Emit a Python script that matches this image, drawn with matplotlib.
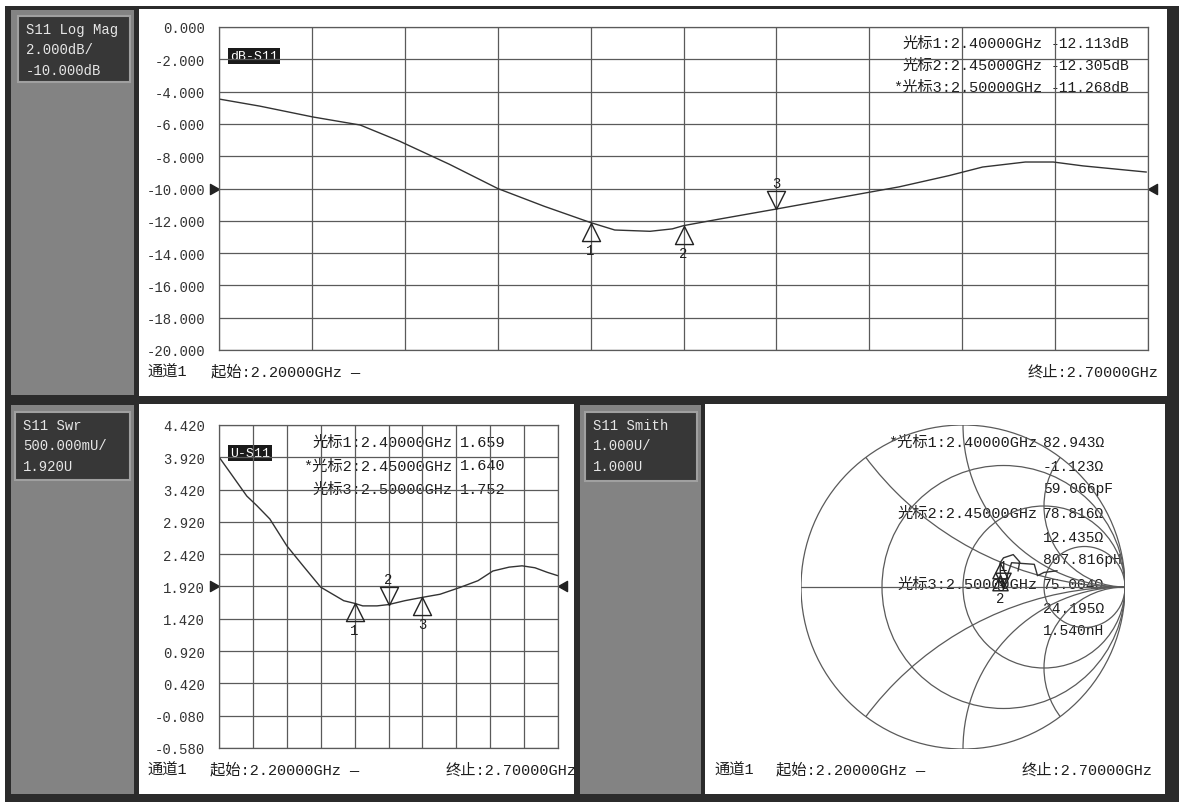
import numpy as np
import matplotlib.pyplot as plt
from matplotlib.patches import Rectangle, Circle

W, H = 1179, 803
plt.rcParams['font.family'] = ['Liberation Mono', 'Noto Sans CJK SC']

# ---- data ----
# S11 log mag (dB)
freq_db = [2.200, 2.222, 2.2505, 2.276, 2.297, 2.324, 2.350, 2.375, 2.400, 2.413,
           2.432, 2.444, 2.450, 2.469, 2.500, 2.539, 2.566, 2.593, 2.611, 2.634,
           2.649, 2.665, 2.699]
s11_db = [-4.46, -4.90, -5.57, -6.07, -7.06, -8.50, -10.00, -11.10, -12.11, -12.57,
          -12.65, -12.50, -12.30, -11.90, -11.27, -10.46, -9.90, -9.20, -8.67, -8.36,
          -8.36, -8.60, -8.98]

# S11 SWR
freq_swr = [2.200, 2.216, 2.241, 2.256, 2.275, 2.300, 2.324, 2.350, 2.384, 2.400,
            2.412, 2.433, 2.450, 2.474, 2.500, 2.526, 2.554, 2.582, 2.604, 2.628,
            2.647, 2.666, 2.684, 2.699]
swr = [3.925, 3.69, 3.32, 3.17, 2.965, 2.55, 2.24, 1.91, 1.70, 1.659,
       1.62, 1.62, 1.640, 1.70, 1.752, 1.80, 1.90, 2.01, 2.16, 2.22,
       2.24, 2.21, 2.14, 2.09]

# S11 Smith (reflection coefficient, rough)
smith_re = [0.58, 0.50, 0.46, 0.44, 0.30, 0.248, 0.231, 0.229, 0.25, 0.31, 0.35, 0.34]
smith_im = [0.10, 0.09, 0.07, 0.14, 0.15, -0.006, 0.074, 0.149, 0.18, 0.20, 0.155, 0.10]

mk_freq = [2.40, 2.45, 2.50]
mk_fstr = ['2.40000GHz', '2.45000GHz', '2.50000GHz']
mk_db = [-12.113, -12.305, -11.268]
mk_swr = [1.659, 1.640, 1.752]
mk_r = [82.943, 78.816, 75.004]
mk_x = [-1.123, 12.435, 24.195]
mk_lc = ['59.066pF', '807.816pH', '1.540nH']

TXT = '#1e1e1e'
GRID = '#5a5a5a'

fig = plt.figure(figsize=(W / 100, H / 100), dpi=100, facecolor='white')
bg = fig.add_axes([0, 0, 1, 1])
bg.set_xlim(0, W)
bg.set_ylim(H, 0)
bg.axis('off')


def box(x0, y0, x1, y1, fc, ec='none', lw=0):
    bg.add_patch(Rectangle((x0, y0), x1 - x0, y1 - y0, facecolor=fc, edgecolor=ec, lw=lw))


def px_axes(x0, y0, x1, y1):
    a = fig.add_axes([x0 / W, 1 - y1 / H, (x1 - x0) / W, (y1 - y0) / H])
    a.set_facecolor('none')
    return a


def t(x, y, s, **kw):
    kw.setdefault('fontsize', 11)
    kw.setdefault('color', TXT)
    kw.setdefault('va', 'center')
    bg.text(x, y, s, **kw)


def mk_label(i, active):
    return ('*' if active else '') + '光标%d:%s' % (i + 1, mk_fstr[i])


# frame and panels
box(5, 7, W, H, '#2b2b2b')
box(11, 11, 134, 396, '#838383')
box(139, 10, 1167, 397, 'white')
box(11, 406, 134, 795, '#838383')
box(139, 405, 574, 795, 'white')
box(580, 406, 701, 795, '#838383')
box(705, 405, 1165, 795, 'white')

# channel label boxes
for (x0, y0, x1, y1), lines in [((18, 17, 130, 83), ['S11 Log Mag', '2.000dB/', '-10.000dB']),
                                ((15, 413, 130, 481), ['S11 Swr', '500.000mU/', '1.920U']),
                                ((585, 413, 697, 482), ['S11 Smith', '1.000U/', '1.000U'])]:
    box(x0, y0, x1, y1, '#373737', '#a0a0a0', 1.5)
    for i, s in enumerate(lines):
        t(x0 + 8, y0 + 13 + i * 20.5, s, color='#e6e6e6', fontsize=10)

# markers as open triangles with the tip on the trace
tri_up = [(0, 0), (-1, -2), (1, -2), (0, 0)]
tri_dn = [(0, 0), (-1, 2), (1, 2), (0, 0)]
arr_r = [(0, 0), (-1.6, 0.9), (-1.6, -0.9), (0, 0)]
arr_l = [(0, 0), (1.6, 0.9), (1.6, -0.9), (0, 0)]


def put_marker(ax, x, y, n, active, ms=26):
    m = tri_dn if active else tri_up
    ax.plot([x], [y], marker=m, ms=ms, mfc='none', mec='#222', mew=1.0, ls='none', clip_on=False)
    off = (26 if active else -27) * ms / 26
    ax.annotate(str(n), (x, y), xytext=(0, off * 0.72), textcoords='offset points',
                ha='center', va='center', fontsize=10, color=TXT)


def grid_axes(ax, ymin, ymax, step):
    ax.set_xlim(2.2, 2.7)
    ax.set_ylim(ymin, ymax)
    ax.set_xticks(np.linspace(2.2, 2.7, 11))
    ax.set_xticklabels([])
    yt = [ymin + step * k for k in range(11)]
    ax.set_yticks(yt)
    ax.set_yticklabels(['%.3f' % v for v in yt], fontsize=10, color='#333')
    ax.tick_params(length=0, pad=10)
    ax.grid(True, color=GRID, lw=0.9)
    for s in ax.spines.values():
        s.set_color(GRID)
        s.set_linewidth(0.9)


# ---- top: log mag ----
ax1 = px_axes(219, 28, 1148, 351)
grid_axes(ax1, -20, 0, 2)
ax1.plot(freq_db, s11_db, color='#333', lw=1.0)
for i in range(3):
    put_marker(ax1, mk_freq[i], mk_db[i], i + 1, i == 2)
ax1.plot([2.2], [-10], marker=arr_r, ms=13, color='#222', clip_on=False)
ax1.plot([2.7], [-10], marker=arr_l, ms=13, color='#222', clip_on=False)
t(230, 57, 'dB-S11', color='white', fontsize=9.5,
  bbox=dict(boxstyle='square,pad=0.12', fc='#1a1a1a', ec='none'))
for i in range(3):
    y = 44 + i * 22
    t(1042, y, mk_label(i, i == 2), ha='right')
    t(1129, y, '%.3fdB' % mk_db[i], ha='right', fontsize=10.5)
t(147, 372, '通道1')
t(211, 372, '起始:2.20000GHz —')
t(1158, 372, '终止:2.70000GHz', ha='right')

# ---- bottom left: SWR ----
ax2 = px_axes(219, 426, 558, 749)
grid_axes(ax2, -0.58, 4.42, 0.5)
ax2.plot(freq_swr, swr, color='#333', lw=1.0)
for i in range(3):
    put_marker(ax2, mk_freq[i], mk_swr[i], i + 1, i == 1)
ax2.plot([2.2], [1.92], marker=arr_r, ms=13, color='#222', clip_on=False)
ax2.plot([2.7], [1.92], marker=arr_l, ms=13, color='#222', clip_on=False)
t(230, 454, 'U-S11', color='white', fontsize=9.5,
  bbox=dict(boxstyle='square,pad=0.12', fc='#1a1a1a', ec='none'))
for i in range(3):
    y = 443 + i * 23.5
    t(452, y, mk_label(i, i == 1), ha='right')
    t(460, y, '%.3f' % mk_swr[i])
t(147, 770, '通道1')
t(210, 770, '起始:2.20000GHz —')
t(576, 770, '终止:2.70000GHz', ha='right')

# ---- bottom right: Smith ----
cx, cy, R = 963, 588, 162
ax3 = px_axes(cx - R, cy - R, cx + R, cy + R)
ax3.set_xlim(-1, 1)
ax3.set_ylim(-1, 1)
ax3.axis('off')
clip = Circle((0, 0), 1, transform=ax3.transData)
ax3.add_patch(Circle((0, 0), 1, fill=False, ec=GRID, lw=0.9))
ax3.plot([-1, 1], [0, 0], color=GRID, lw=0.9)
for r in [1 / 3, 1, 3]:
    ax3.add_patch(Circle((r / (1 + r), 0), 1 / (1 + r), fill=False, ec=GRID, lw=0.9))
for x in [0.5, 1, 2]:
    for sgn in [1, -1]:
        p = Circle((1, sgn / x), 1 / x, fill=False, ec=GRID, lw=0.9)
        ax3.add_patch(p)
        p.set_clip_path(clip)
ax3.plot(smith_re, smith_im, color='#333', lw=1.0)
for i in range(3):
    z = complex(mk_r[i], mk_x[i])
    g = (z - 50) / (z + 50)
    put_marker(ax3, g.real, g.imag, i + 1, i == 0, ms=22)

for i in range(3):
    y0 = 443 + i * 71
    t(1037, y0, mk_label(i, i == 0), ha='right')
    t(1043, y0, '%.3fΩ' % mk_r[i], fontsize=10.5)
    t(1043, y0 + 24, '%.3fΩ' % mk_x[i], fontsize=10.5)
    t(1043, y0 + 46, mk_lc[i], fontsize=10.5)
t(714, 770, '通道1')
t(776, 770, '起始:2.20000GHz —')
t(1152, 770, '终止:2.70000GHz', ha='right')

fig.savefig('out.png', dpi=100, facecolor='white')
